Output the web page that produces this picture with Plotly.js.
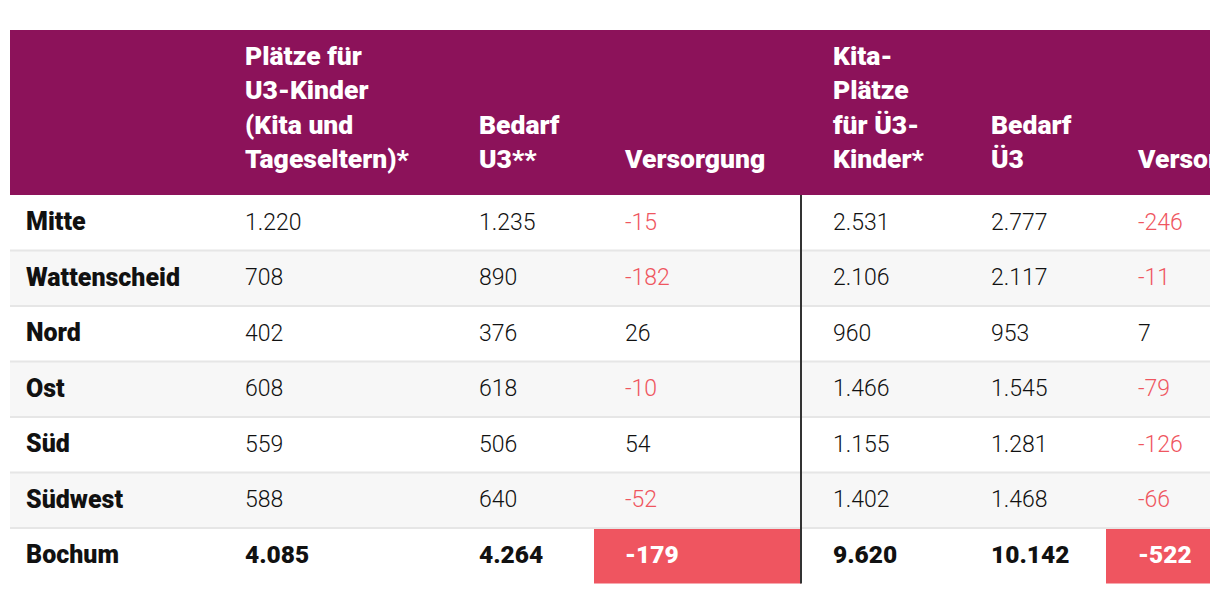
<!DOCTYPE html>
<html>
<head>
<meta charset="utf-8">
<script src="https://cdn.plot.ly/plotly-3.0.1.min.js"></script>
<style>
  html, body { margin: 0; padding: 0; background: #ffffff; }
  #chart { width: 1220px; height: 594px; }
</style>
</head>
<body>
<div id="chart"></div>
<script>
// ---------- DATA ----------
const rowLabels = ['Mitte', 'Wattenscheid', 'Nord', 'Ost', 'Süd', 'Südwest'];
const totalLabel = 'Bochum';

const headerTexts = [
  '',
  'Plätze für<br>U3-Kinder<br>(Kita und<br>Tageseltern)*',
  'Bedarf<br>U3**',
  'Versorgung',
  'Kita-<br>Plätze<br>für Ü3-<br>Kinder*',
  'Bedarf<br>Ü3',
  'Versorgung'
];

const u3Places      = [1220, 708, 402, 608, 559, 588];
const u3PlacesTotal = 4085;
const u3Demand      = [1235, 890, 376, 618, 506, 640];
const u3DemandTotal = 4264;
const u3Supply      = [-15, -182, 26, -10, 54, -52];
const u3SupplyTotal = -179;

const o3Places      = [2531, 2106, 960, 1466, 1155, 1402];
const o3PlacesTotal = 9620;
const o3Demand      = [2777, 2117, 953, 1545, 1281, 1468];
const o3DemandTotal = 10142;
const o3Supply      = [-246, -11, 7, -79, -126, -66];
const o3SupplyTotal = -522;

// ---------- LAYOUT CONSTANTS ----------
const W = 1220, H = 594;
const TABLE_X0 = 10, TABLE_X1 = 1210;
const HEADER_Y0 = 30, HEADER_Y1 = 195;
const ROW_H = 55.5;
const TEXT_X = [26, 245, 479, 625, 833, 991, 1138];
const CELL_EDGES = [10, 214, 448, 594, 801, 960, 1106, 1210];
const DIVIDER_X = 801;

const HEADER_COLOR = '#8c125a';
const STRIPE_COLOR = '#f7f7f7';
const SEP_COLOR = '#e6e6e6';
const NEG_COLOR = '#ef565f';
const NEG_FILL = '#ef5560';
const TEXT_COLOR = '#111111';
const FONT_BOLD = 'Roboto, "Noto Sans", sans-serif';
const FONT_LIGHT = 'Roboto, "Noto Sans", sans-serif';

const HEAD_FS = 26.5;
const LABEL_FS = 25;
const NUM_FS = 23;
const TOTAL_FS = 24.5;

function fmt(n) {
  const s = Math.abs(n).toString().replace(/\B(?=(\d{3})+(?!\d))/g, '.');
  return (n < 0 ? '-' : '') + s;
}

const columns = [
  { values: u3Places, total: u3PlacesTotal, supply: false },
  { values: u3Demand, total: u3DemandTotal, supply: false },
  { values: u3Supply, total: u3SupplyTotal, supply: true },
  { values: o3Places, total: o3PlacesTotal, supply: false },
  { values: o3Demand, total: o3DemandTotal, supply: false },
  { values: o3Supply, total: o3SupplyTotal, supply: true }
];

const nRows = rowLabels.length + 1;
const rowTop = i => HEADER_Y1 + i * ROW_H;
const rowMid = i => rowTop(i) + ROW_H / 2 + 1;
const rowYs = Array.from({ length: nRows }, (_, i) => rowMid(i));

const traces = [];

// header texts (bottom aligned)
const headBaseline = 168;
traces.push({
  type: 'scatter', mode: 'text', hoverinfo: 'skip', cliponaxis: true,
  x: TEXT_X.slice(1),
  y: TEXT_X.slice(1).map(() => headBaseline + 0.25 * HEAD_FS),
  text: headerTexts.slice(1),
  textposition: 'top right',
  textfont: { family: FONT_BOLD, size: HEAD_FS, color: '#ffffff', weight: 900 }
});

// row labels
traces.push({
  type: 'scatter', mode: 'text', hoverinfo: 'skip', cliponaxis: true,
  x: rowYs.map(() => TEXT_X[0]),
  y: rowYs,
  text: rowLabels.concat([totalLabel]),
  textposition: 'middle right',
  textfont: { family: FONT_BOLD, size: LABEL_FS, color: TEXT_COLOR, weight: 900 }
});

// numeric columns
columns.forEach((col, j) => {
  const vals = col.values.concat([col.total]);
  const isTotal = vals.map((_, i) => i === vals.length - 1);
  traces.push({
    type: 'scatter', mode: 'text', hoverinfo: 'skip', cliponaxis: true,
    x: vals.map(() => TEXT_X[j + 1]),
    y: rowYs,
    text: vals.map(fmt),
    textposition: 'middle right',
    textfont: {
      family: FONT_LIGHT,
      size: isTotal.map(t => t ? TOTAL_FS : NUM_FS),
      weight: isTotal.map(t => t ? 900 : 300),
      color: vals.map((v, i) => {
        if (col.supply && isTotal[i] && col.total < 0) return '#ffffff';
        if (col.supply && v < 0) return NEG_COLOR;
        return TEXT_COLOR;
      })
    }
  });
});

// ---------- SHAPES ----------
const shapes = [];
shapes.push({
  type: 'rect', xref: 'x', yref: 'y', layer: 'below',
  x0: TABLE_X0, x1: TABLE_X1, y0: HEADER_Y0, y1: HEADER_Y1,
  fillcolor: HEADER_COLOR, line: { width: 0 }
});
for (let i = 0; i < nRows; i++) {
  if (i % 2 === 1) {
    shapes.push({
      type: 'rect', xref: 'x', yref: 'y', layer: 'below',
      x0: TABLE_X0, x1: TABLE_X1, y0: rowTop(i), y1: rowTop(i + 1),
      fillcolor: STRIPE_COLOR, line: { width: 0 }
    });
  }
}
// red cells for negative totals in supply columns
columns.forEach((col, j) => {
  if (col.supply && col.total < 0) {
    shapes.push({
      type: 'rect', xref: 'x', yref: 'y', layer: 'below',
      x0: CELL_EDGES[j + 1], x1: CELL_EDGES[j + 2],
      y0: rowTop(nRows - 1), y1: rowTop(nRows),
      fillcolor: NEG_FILL, line: { width: 0 }
    });
  }
});
for (let i = 1; i < nRows; i++) {
  shapes.push({
    type: 'line', xref: 'x', yref: 'y', layer: 'below',
    x0: TABLE_X0, x1: TABLE_X1, y0: rowTop(i), y1: rowTop(i),
    line: { color: SEP_COLOR, width: 2 }
  });
}
shapes.push({
  type: 'line', xref: 'x', yref: 'y', layer: 'below',
  x0: DIVIDER_X, x1: DIVIDER_X, y0: HEADER_Y1, y1: rowTop(nRows),
  line: { color: '#333333', width: 2 }
});

const layout = {
  width: W, height: H,
  margin: { l: 0, r: W - TABLE_X1, t: 0, b: 0, pad: 0 },
  paper_bgcolor: '#ffffff', plot_bgcolor: '#ffffff',
  showlegend: false,
  xaxis: { range: [0, TABLE_X1], visible: false, fixedrange: true },
  yaxis: { range: [H, 0], visible: false, fixedrange: true },
  shapes: shapes
};

Plotly.newPlot('chart', traces, layout, { staticPlot: true, displayModeBar: false });
</script>
</body>
</html>
